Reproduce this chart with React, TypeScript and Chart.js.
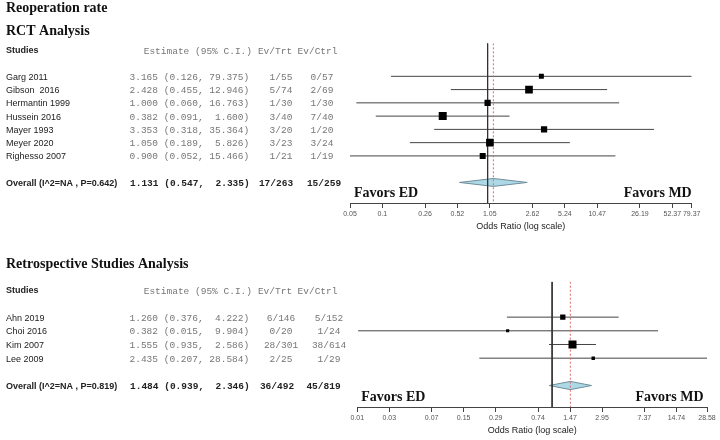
import React, { useEffect, useRef } from 'react';
import { Chart, registerables } from 'chart.js';

Chart.register(...registerables);

// ---------- RCT analysis ----------
const rctStudies = ['Garg 2011', 'Gibson  2016', 'Hermantin 1999', 'Hussein 2016', 'Mayer 1993', 'Meyer 2020', 'Righesso 2007'];
const rctEst = [3.165, 2.428, 1.0, 0.382, 3.353, 1.05, 0.9];
const rctLo = [0.126, 0.455, 0.06, 0.091, 0.318, 0.189, 0.052];
const rctHi = [79.375, 12.946, 16.763, 1.6, 35.364, 5.826, 15.466];
const rctEvTrt = ['1/55', '5/74', '1/30', '3/40', '3/20', '3/23', '1/21'];
const rctEvCtrl = ['0/57', '2/69', '1/30', '7/40', '1/20', '3/24', '1/19'];
const rctWeight = [0.62, 0.96, 0.78, 1.0, 0.78, 0.95, 0.75];
const rctOverallLabel = 'Overall (I^2=NA , P=0.642)';
const rctOverall = [1.131, 0.547, 2.335];
const rctOverallEv = ['17/263', '15/259'];
const rctTickValues = [0.05237, 0.10475, 0.26187, 0.52373, 1.04746, 2.61866, 5.2373, 10.4746, 26.1866, 52.373, 79.37];
const rctTickLabels = ['0.05', '0.1', '0.26', '0.52', '1.05', '2.62', '5.24', '10.47', '26.19', '52.37', '79.37'];

// ---------- Retrospective analysis ----------
const retroStudies = ['Ahn 2019', 'Choi 2016', 'Kim 2007', 'Lee 2009'];
const retroEst = [1.26, 0.382, 1.555, 2.435];
const retroLo = [0.376, 0.015, 0.935, 0.207];
const retroHi = [4.222, 9.904, 2.586, 28.584];
const retroEvTrt = ['6/146', '0/20', '28/301', '2/25'];
const retroEvCtrl = ['5/152', '1/24', '38/614', '1/29'];
const retroWeight = [0.66, 0.39, 1.0, 0.43];
const retroOverallLabel = 'Overall (I^2=NA , P=0.819)';
const retroOverall = [1.484, 0.939, 2.346];
const retroOverallEv = ['36/492', '45/819'];
const retroTickValues = [0.01474, 0.02948, 0.0737, 0.1474, 0.2948, 0.737, 1.474, 2.948, 7.37, 14.74, 28.58];
const retroTickLabels = ['0.01', '0.03', '0.07', '0.15', '0.29', '0.74', '1.47', '2.95', '7.37', '14.74', '28.58'];

const SERIF = '"Liberation Serif", "Times New Roman", serif';
const SANS = '"Liberation Sans", Arial, sans-serif';
const MONO = '"Liberation Mono", "Courier New", monospace';

function estText(e: number, lo: number, hi: number) {
  return `${e.toFixed(3)} (${lo.toFixed(3)}, ${hi.toFixed(3).padStart(6, ' ')})`;
}

type Spec = {
  titles: { text: string; y: number }[];
  studies: string[];
  est: number[];
  lo: number[];
  hi: number[];
  evTrt: string[];
  evCtrl: string[];
  weight: number[];
  overallLabel: string;
  overall: number[];
  overallEv: string[];
  tickValues: number[];
  tickLabels: string[];
  yMin: number;
  yMax: number;
  padding: { left: number; right: number; top: number; bottom: number };
  ctrlX: number;
  ctrlOverallX: number;
  trtOverallX: number;
  favorsRightInset: number;
};

function buildConfig(spec: Spec): any {
  const n = spec.studies.length;
  const orow = n + 1;
  const [oEst, oLo, oHi] = spec.overall;
  const datasets: any[] = [];

  datasets.push({
    type: 'scatter',
    order: 0,
    data: spec.est.map((e, i) => ({ x: e, y: i })),
    pointStyle: 'rect',
    pointRadius: spec.weight.map((w) => (w * 8) / 1.414),
    backgroundColor: '#000',
    borderColor: '#000',
    borderWidth: 0,
  });
  datasets.push({
    type: 'line',
    order: 1,
    data: [{ x: 1, y: spec.yMin }, { x: 1, y: spec.yMax }],
    borderColor: '#333',
    borderWidth: 1,
    pointRadius: 0,
  });
  datasets.push({
    type: 'line',
    order: 1,
    data: [{ x: oEst, y: spec.yMin }, { x: oEst, y: spec.yMax }],
    borderColor: '#dd6666',
    borderDash: [2, 2],
    borderWidth: 1,
    pointRadius: 0,
  });
  datasets.push({
    type: 'line',
    order: 2,
    data: [
      { x: oLo, y: orow },
      { x: oEst, y: orow - 0.3 },
      { x: oHi, y: orow },
      { x: oEst, y: orow + 0.3 },
      { x: oLo, y: orow },
    ],
    borderColor: '#6f8e9a',
    borderWidth: 1,
    backgroundColor: '#add8e6',
    fill: 'shape',
    pointRadius: 0,
    tension: 0,
  });
  spec.est.forEach((_, i) => {
    datasets.push({
      type: 'line',
      order: 3,
      data: [{ x: spec.lo[i], y: i }, { x: spec.hi[i], y: i }],
      borderColor: '#444',
      borderWidth: 1,
      pointRadius: 0,
    });
  });

  const tablePlugin = {
    id: 'forestTable',
    afterDraw(chart: any) {
      const ctx = chart.ctx as CanvasRenderingContext2D;
      const ys = chart.scales.y;
      const area = chart.chartArea;
      ctx.save();
      // section titles
      ctx.fillStyle = '#111';
      ctx.textBaseline = 'alphabetic';
      ctx.textAlign = 'left';
      ctx.font = `bold 14px ${SERIF}`;
      spec.titles.forEach((t) => ctx.fillText(t.text, 6, t.y));

      // header
      const hy = 51;
      ctx.textBaseline = 'middle';
      ctx.font = `bold 9px ${SANS}`;
      ctx.fillStyle = '#222';
      ctx.fillText('Studies', 6, hy);
      ctx.font = `9.5px ${MONO}`;
      ctx.fillStyle = '#777';
      ctx.textAlign = 'right';
      ctx.fillText('Estimate (95% C.I.)', 252, hy);
      ctx.textAlign = 'center';
      ctx.fillText('Ev/Trt', 275, hy);
      ctx.fillText('Ev/Ctrl', 317.5, hy);

      // rows
      spec.studies.forEach((s, i) => {
        const y = ys.getPixelForValue(i) + 1;
        ctx.textAlign = 'left';
        ctx.font = `9px ${SANS}`;
        ctx.fillStyle = '#222';
        ctx.fillText(s, 6, y);
        ctx.font = `9.5px ${MONO}`;
        ctx.fillStyle = '#777';
        ctx.fillText(estText(spec.est[i], spec.lo[i], spec.hi[i]), 129.5, y);
        ctx.textAlign = 'center';
        ctx.fillText(spec.evTrt[i], 281, y);
        ctx.fillText(spec.evCtrl[i], spec.ctrlX, y);
      });

      // overall row
      const oy = ys.getPixelForValue(orow) + 1;
      ctx.textAlign = 'left';
      ctx.fillStyle = '#222';
      ctx.font = `bold 9px ${SANS}`;
      ctx.fillText(spec.overallLabel, 6, oy);
      ctx.font = `bold 9.5px ${MONO}`;
      ctx.fillText(estText(oEst, oLo, oHi), 130, oy);
      ctx.textAlign = 'center';
      ctx.fillText(spec.overallEv[0], spec.trtOverallX, oy);
      ctx.fillText(spec.overallEv[1], spec.ctrlOverallX, oy);

      // favors labels
      ctx.font = `bold 14px ${SERIF}`;
      ctx.fillStyle = '#111';
      const fy = area.bottom - 9.5;
      ctx.textAlign = 'left';
      ctx.fillText('Favors ED', area.left + 4, fy);
      ctx.textAlign = 'right';
      ctx.fillText('Favors MD', area.right - spec.favorsRightInset, fy);
      ctx.restore();
    },
  };

  return {
    type: 'scatter',
    data: { datasets },
    plugins: [tablePlugin],
    options: {
      animation: false,
      responsive: false,
      events: [],
      layout: { padding: spec.padding },
      plugins: { legend: { display: false }, tooltip: { enabled: false } },
      scales: {
        x: {
          type: 'logarithmic',
          position: 'bottom',
          min: spec.tickValues[0],
          max: spec.tickValues[spec.tickValues.length - 1],
          afterBuildTicks: (scale: any) => {
            scale.ticks = spec.tickValues.map((v) => ({ value: v }));
          },
          ticks: {
            autoSkip: false,
            maxRotation: 0,
            minRotation: 0,
            padding: 2,
            color: '#555',
            font: { size: 7, family: SANS },
            callback: (_v: any, i: number) => spec.tickLabels[i],
          },
          grid: { drawOnChartArea: false, drawTicks: true, tickLength: 5, color: '#444', lineWidth: 1 },
          border: { display: true, color: '#444', width: 1 },
          title: {
            display: true,
            text: 'Odds Ratio (log scale)',
            color: '#222',
            font: { size: 9, family: SANS },
            padding: { top: 1, bottom: 0 },
          },
        },
        y: { type: 'linear', min: spec.yMin, max: spec.yMax, reverse: true, display: false },
      },
    },
  };
}

const topSpec: Spec = {
  titles: [
    { text: 'Reoperation rate', y: 12 },
    { text: 'RCT Analysis', y: 34.5 },
  ],
  studies: rctStudies,
  est: rctEst,
  lo: rctLo,
  hi: rctHi,
  evTrt: rctEvTrt,
  evCtrl: rctEvCtrl,
  weight: rctWeight,
  overallLabel: rctOverallLabel,
  overall: rctOverall,
  overallEv: rctOverallEv,
  tickValues: rctTickValues,
  tickLabels: rctTickLabels,
  yMin: -2.49,
  yMax: 9.55,
  padding: { left: 350, right: 28.3, top: 43.3, bottom: 7.8 },
  ctrlX: 322,
  ctrlOverallX: 324,
  trtOverallX: 276,
  favorsRightInset: 0,
};

const bottomSpec: Spec = {
  titles: [{ text: 'Retrospective Studies Analysis', y: 28.3 }],
  studies: retroStudies,
  est: retroEst,
  lo: retroLo,
  hi: retroHi,
  evTrt: retroEvTrt,
  evCtrl: retroEvCtrl,
  weight: retroWeight,
  overallLabel: retroOverallLabel,
  overall: retroOverall,
  overallEv: retroOverallEv,
  tickValues: retroTickValues,
  tickLabels: retroTickLabels,
  yMin: -2.59,
  yMax: 6.57,
  padding: { left: 357.3, right: 13, top: 41.7, bottom: 3.8 },
  ctrlX: 329,
  ctrlOverallX: 323.5,
  trtOverallX: 277,
  favorsRightInset: 3.5,
};

function Forest({ spec, top, height }: { spec: Spec; top: number; height: number }) {
  const ref = useRef<HTMLCanvasElement | null>(null);
  useEffect(() => {
    if (!ref.current) return;
    const chart = new Chart(ref.current, buildConfig(spec));
    return () => chart.destroy();
  }, [spec]);
  return (
    <canvas
      ref={ref}
      width={720}
      height={height}
      style={{ position: 'absolute', left: 0, top, width: 720, height, display: 'block' }}
    />
  );
}

export default function App() {
  return (
    <div style={{ position: 'absolute', left: 0, top: 0, width: 720, height: 440, background: '#fff', overflow: 'hidden' }}>
      <Forest spec={topSpec} top={0} height={240} />
      <Forest spec={bottomSpec} top={240} height={200} />
    </div>
  );
}
